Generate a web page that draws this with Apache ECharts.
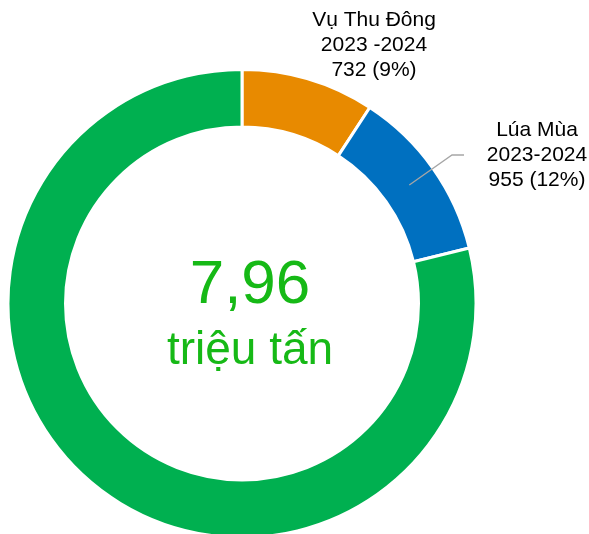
<!DOCTYPE html>
<html>
<head>
<meta charset="utf-8">
<script src="https://cdn.jsdelivr.net/npm/echarts@6/dist/echarts.min.js"></script>
<style>
html,body{margin:0;padding:0;background:#fff;}
#c{width:589px;height:534px;}
</style>
</head>
<body>
<div id="c"></div>
<script>
var categories = ['Vụ Thu Đông\n2023 -2024', 'Lúa Mùa\n2023-2024', 'Khác'];
var values = [732, 955, 6273];
var colors = ['#E88A00', '#0070C0', '#00B050'];
var unitLabel = 'triệu tấn';

var total = values.reduce(function(a, b){ return a + b; }, 0);
var totalText = (total / 1000).toFixed(2).replace('.', ',');

var labelSpots = {
  0: {x: 374, y: 8},
  1: {x: 537, y: 118}
};

var chart = echarts.init(document.getElementById('c'), null, {renderer: 'canvas'});
var ringData = categories.map(function(n, i){
  return {name: n, value: values[i], itemStyle: {color: colors[i]}};
});
var labelData = categories.map(function(n, i){
  return {
    name: n, value: values[i],
    label: {show: i < 2},
    labelLine: {show: i === 1}
  };
});

chart.setOption({
  animation: false,
  series: [
    {
      type: 'pie',
      center: [242, 303.5],
      radius: [176.5, 234],
      startAngle: 90,
      clockwise: true,
      silent: true,
      label: {show: false},
      labelLine: {show: false},
      itemStyle: {borderColor: '#ffffff', borderWidth: 3},
      data: ringData
    },
    {
      type: 'pie',
      z: 5,
      center: [242, 303.5],
      radius: [0, 205],
      startAngle: 90,
      clockwise: true,
      silent: true,
      itemStyle: {color: 'rgba(0,0,0,0)'},
      label: {
        show: true,
        position: 'outside',
        color: '#000000',
        fontFamily: 'Liberation Sans, Arial, sans-serif',
        fontSize: 21,
        lineHeight: 25,
        align: 'center',
        formatter: function(p){
          return p.name + '\n' + p.value + ' (' + Math.round(p.percent) + '%)';
        }
      },
      labelLine: {
        show: true,
        lineStyle: {color: '#A6A6A6', width: 1.3}
      },
      labelLayout: function(params){
        var s = labelSpots[params.dataIndex];
        if (!s) return {};
        var out = {x: s.x, y: s.y, align: 'center', verticalAlign: 'top'};
        if (params.dataIndex === 1 && params.labelLinePoints) {
          var p0 = params.labelLinePoints[0];
          out.labelLinePoints = [p0, [452, 155], [464, 155]];
        }
        return out;
      },
      data: labelData
    }
  ],
  graphic: [
    {
      type: 'text',
      style: {
        text: totalText,
        fill: '#16B916',
        font: '62px "Liberation Sans", Arial, sans-serif',
        textAlign: 'center',
        textVerticalAlign: 'bottom'
      },
      position: [250, 317]
    },
    {
      type: 'text',
      style: {
        text: unitLabel,
        fill: '#16B916',
        font: '46px "Liberation Sans", Arial, sans-serif',
        textAlign: 'center',
        textVerticalAlign: 'bottom'
      },
      position: [250, 374]
    }
  ]
});
</script>
</body>
</html>
